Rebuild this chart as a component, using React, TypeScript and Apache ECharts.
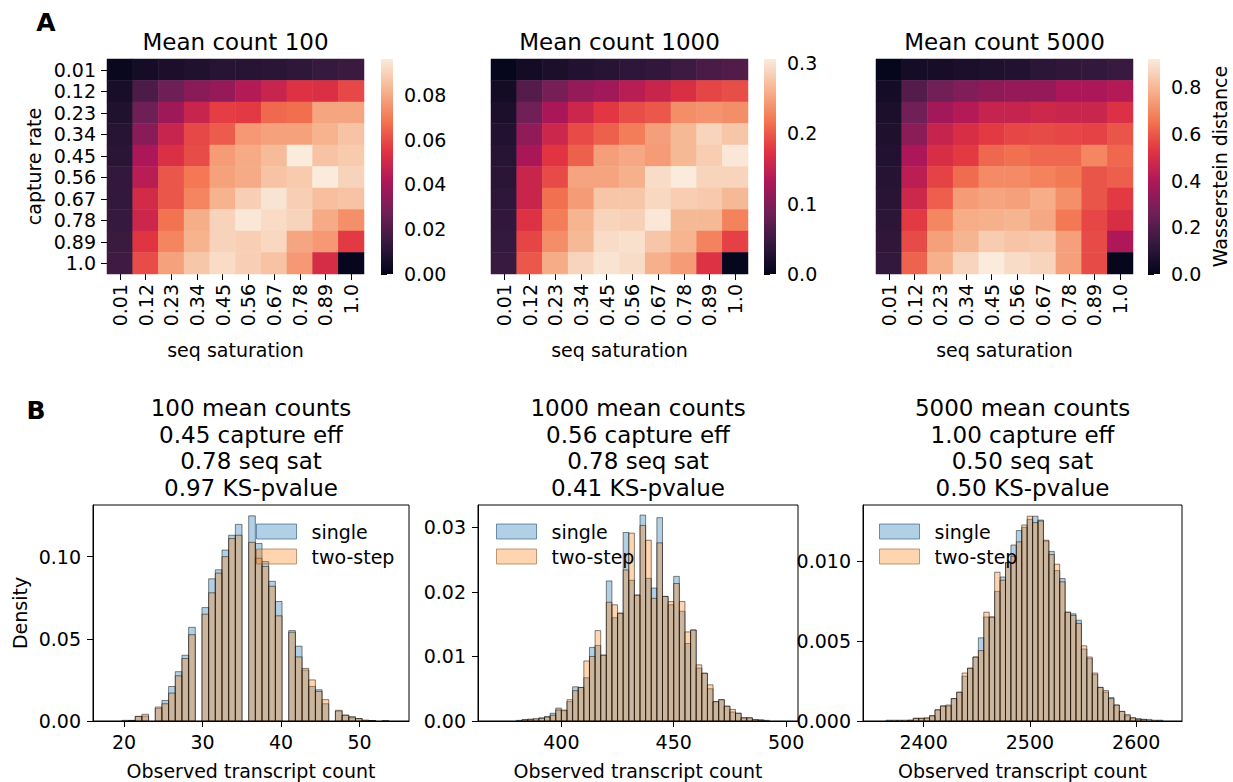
import React, { useEffect, useRef } from 'react';
import * as echarts from 'echarts';

const FONT = 'DejaVu Sans';

// ---------- Panel A: heatmaps ----------
const rateLabels = ['0.01', '0.12', '0.23', '0.34', '0.45', '0.56', '0.67', '0.78', '0.89', '1.0'];
const satLabels = ['0.01', '0.12', '0.23', '0.34', '0.45', '0.56', '0.67', '0.78', '0.89', '1.0'];

// rows = capture rate (0.01 .. 1.0), columns = seq saturation (0.01 .. 1.0)
const heat100 = [
  [0.002, 0.005, 0.007, 0.008, 0.010, 0.010, 0.011, 0.012, 0.014, 0.015],
  [0.006, 0.019, 0.027, 0.033, 0.036, 0.043, 0.048, 0.054, 0.053, 0.059],
  [0.008, 0.027, 0.038, 0.048, 0.057, 0.056, 0.066, 0.067, 0.079, 0.079],
  [0.010, 0.033, 0.048, 0.059, 0.063, 0.076, 0.078, 0.078, 0.082, 0.086],
  [0.011, 0.041, 0.053, 0.060, 0.077, 0.080, 0.084, 0.096, 0.086, 0.088],
  [0.013, 0.044, 0.062, 0.069, 0.078, 0.080, 0.086, 0.088, 0.096, 0.090],
  [0.013, 0.051, 0.062, 0.072, 0.082, 0.089, 0.094, 0.089, 0.085, 0.086],
  [0.014, 0.049, 0.068, 0.081, 0.090, 0.095, 0.092, 0.090, 0.080, 0.074],
  [0.015, 0.055, 0.072, 0.082, 0.090, 0.089, 0.091, 0.079, 0.076, 0.056],
  [0.016, 0.060, 0.078, 0.087, 0.092, 0.089, 0.086, 0.076, 0.052, 0.001],
];
const heat1000 = [
  [0.003, 0.015, 0.021, 0.027, 0.031, 0.037, 0.040, 0.049, 0.058, 0.064],
  [0.015, 0.067, 0.092, 0.113, 0.122, 0.140, 0.153, 0.168, 0.186, 0.192],
  [0.021, 0.088, 0.128, 0.156, 0.177, 0.192, 0.198, 0.235, 0.238, 0.235],
  [0.027, 0.110, 0.156, 0.189, 0.204, 0.223, 0.247, 0.265, 0.287, 0.275],
  [0.031, 0.128, 0.174, 0.204, 0.247, 0.253, 0.244, 0.265, 0.281, 0.302],
  [0.034, 0.153, 0.189, 0.250, 0.250, 0.259, 0.293, 0.305, 0.287, 0.287],
  [0.037, 0.153, 0.214, 0.244, 0.275, 0.275, 0.290, 0.281, 0.278, 0.265],
  [0.040, 0.171, 0.223, 0.262, 0.287, 0.284, 0.302, 0.265, 0.265, 0.226],
  [0.043, 0.186, 0.235, 0.265, 0.293, 0.296, 0.275, 0.262, 0.226, 0.183],
  [0.046, 0.198, 0.256, 0.287, 0.299, 0.293, 0.259, 0.244, 0.171, 0.003],
];
const heat5000 = [
  [0.009, 0.046, 0.055, 0.064, 0.073, 0.082, 0.109, 0.118, 0.127, 0.137],
  [0.046, 0.200, 0.264, 0.300, 0.328, 0.346, 0.346, 0.391, 0.391, 0.410],
  [0.064, 0.264, 0.373, 0.410, 0.455, 0.455, 0.473, 0.464, 0.464, 0.510],
  [0.073, 0.319, 0.455, 0.501, 0.537, 0.564, 0.573, 0.564, 0.555, 0.592],
  [0.082, 0.391, 0.501, 0.537, 0.628, 0.646, 0.628, 0.628, 0.692, 0.628],
  [0.091, 0.428, 0.555, 0.637, 0.701, 0.701, 0.683, 0.664, 0.592, 0.610],
  [0.100, 0.473, 0.610, 0.737, 0.755, 0.746, 0.774, 0.710, 0.592, 0.537],
  [0.109, 0.537, 0.692, 0.774, 0.783, 0.792, 0.764, 0.664, 0.564, 0.501],
  [0.118, 0.573, 0.746, 0.792, 0.846, 0.828, 0.837, 0.746, 0.573, 0.400],
  [0.127, 0.619, 0.783, 0.865, 0.920, 0.883, 0.865, 0.746, 0.573, 0.009],
];
const heatTitles = ['Mean count 100', 'Mean count 1000', 'Mean count 5000'];
const heatMax = [0.096, 0.305, 0.92];
const cbTicks = [
  [0, 0.02, 0.04, 0.06, 0.08],
  [0, 0.1, 0.2, 0.3],
  [0, 0.2, 0.4, 0.6, 0.8],
];
const cbDecimals = [2, 1, 1];
const rocket = ['#03051A', '#35193E', '#701F57', '#AD1759', '#E13342', '#F37651', '#F6B48F', '#FAEBDD'];

// ---------- Panel B: histograms ----------
const histTitles = [
  ['100 mean counts', '0.45 capture eff', '0.78 seq sat', '0.97 KS-pvalue'],
  ['1000 mean counts', '0.56 capture eff', '0.78 seq sat', '0.41 KS-pvalue'],
  ['5000 mean counts', '1.00 capture eff', '0.50 seq sat', '0.50 KS-pvalue'],
];
const hist1Start = 19.73;
const hist1Width = 0.85;
const hist1Single = [0.0004, 0.0004, 0.0028, 0.003, 0, 0.0077, 0.0125, 0.021, 0.030, 0.040, 0.057, 0, 0.069, 0.0865, 0.092, 0.104, 0.113, 0.1196, 0, 0.1248, 0.108, 0.097, 0.085, 0.0727, 0, 0.055, 0.0455, 0.031, 0.021, 0.019, 0.0105, 0, 0.006, 0.0036, 0.0027, 0.0015, 0.0004, 0.0002, 0, 0, 0];
const hist1TwoStep = [0, 0.0003, 0.0028, 0.0041, 0, 0.0085, 0.0105, 0.017, 0.0275, 0.038, 0.0525, 0, 0.065, 0.078, 0.090, 0.100, 0.111, 0.113, 0, 0.1087, 0.099, 0.094, 0.082, 0.064, 0, 0.054, 0.039, 0.032, 0.025, 0.018, 0.013, 0, 0.0065, 0.0035, 0.002, 0.0015, 0.0005, 0.0003, 0, 0.0003, 0];

const hist2Start = 380;
const hist2Width = 2.5;
const hist2Single = [0.0001, 0.0002, 0.0003, 0.0002, 0.0005, 0.0007, 0.0012, 0.0020, 0.0016, 0.0030, 0.0053, 0.0052, 0.0067, 0.0114, 0.0117, 0.0102, 0.0217, 0.0160, 0.0167, 0.0292, 0.0218, 0.0195, 0.0319, 0.0221, 0.0206, 0.0315, 0.0193, 0.0180, 0.0224, 0.0170, 0.0120, 0.0141, 0.0082, 0.0074, 0.0050, 0.0030, 0.0033, 0.0023, 0.0014, 0.0012, 0.0005, 0.0005, 0.0002, 0.0002, 0.0001];
const hist2TwoStep = [0, 0.0002, 0.0002, 0.0004, 0.0004, 0.0006, 0.0009, 0.0017, 0.0017, 0.0033, 0.0047, 0.0052, 0.0093, 0.0100, 0.0140, 0.0102, 0.0184, 0.0180, 0.0167, 0.0234, 0.0291, 0.0195, 0.0303, 0.0280, 0.0190, 0.0276, 0.0193, 0.0185, 0.0213, 0.0185, 0.0138, 0.0141, 0.0087, 0.0074, 0.0056, 0.0030, 0.0033, 0.0023, 0.0018, 0.0012, 0.0005, 0.0005, 0.0002, 0.0001, 0];

const hist3Start = 2364.8;
const hist3Width = 5.1;
const hist3Single = [0.00005, 0, 0.00005, 0, 0.00005, 0.00017, 0.00017, 0.00017, 0.00033, 0.0007, 0.00094, 0.00094, 0.0014, 0.0018, 0.0028, 0.0033, 0.0040, 0.0052, 0.0065, 0.0065, 0.0081, 0.0090, 0.0099, 0.0110, 0.0119, 0.0121, 0.0126, 0.0128, 0.01256, 0.01125, 0.0106, 0.0094, 0.0089, 0.0068, 0.0067, 0.0063, 0.0045, 0.0039, 0.0029, 0.0021, 0.0018, 0.00146, 0.0010, 0.0006, 0.00033, 0.0002, 0.00015, 0.0001, 0.0001, 0, 0.00005];
const hist3TwoStep = [0, 0.00005, 0, 0.00005, 0.00005, 0.00017, 0.00017, 0.0002, 0.00033, 0.0007, 0.00094, 0.001, 0.0014, 0.0018, 0.0030, 0.0033, 0.0040, 0.0044, 0.0068, 0.0065, 0.0093, 0.0088, 0.0099, 0.0103, 0.0112, 0.01225, 0.0128, 0.0124, 0.0125, 0.0113, 0.0104, 0.0098, 0.0087, 0.0068, 0.0066, 0.0061, 0.0047, 0.0040, 0.0030, 0.0021, 0.0019, 0.0014, 0.0010, 0.0006, 0.0004, 0.0002, 0.0001, 0.0001, 0, 0.00005, 0];

const histXRange = [[16.05, 56.3], [362.9, 505.3], [2343, 2643]];
const histYMax = [0.1314, 0.03346, 0.0135];
const histXTicks = [[20, 30, 40, 50], [400, 450, 500], [2400, 2500, 2600]];
const histYTicks = [[0, 0.05, 0.1], [0, 0.01, 0.02, 0.03], [0, 0.005, 0.01]];
const histYDecimals = [2, 2, 3];

const BLUE_FILL = 'rgba(31,119,180,0.35)';
const ORANGE_FILL = 'rgba(255,127,14,0.33)';
const EDGE = 'rgba(0,0,0,0.6)';

// ---------- layout ----------
const heatLeft = [107, 491, 876];
const heatTop = 59;
const heatW = 257;
const heatH = 215;
const cbLeft = [381, 764, 1148];
const cbW = 12;
const histLeft = [93, 478, 863];
const histW = [316, 320, 319];
const histTop = 505;
const histH = 216;

function toHeatData(rows: number[][]) {
  const out: number[][] = [];
  rows.forEach((row, r) => row.forEach((v, c) => out.push([c, r, v])));
  return out;
}
function toBins(start: number, width: number, heights: number[]) {
  const out: number[][] = [];
  heights.forEach((h, i) => {
    if (h > 0) out.push([start + i * width, start + (i + 1) * width, h]);
  });
  return out;
}

const textBase = { fontFamily: FONT, color: '#000' };

export default function App() {
  const ref = useRef<HTMLDivElement>(null);
  useEffect(() => {
    document.body.style.margin = '0';
    if (!ref.current) return;
    const chart = echarts.init(ref.current, undefined, { renderer: 'svg' });

    const grids: any[] = [];
    const xAxes: any[] = [];
    const yAxes: any[] = [];
    const series: any[] = [];
    const visualMaps: any[] = [];
    const graphics: any[] = [];
    const legends: any[] = [];

    const heats = [heat100, heat1000, heat5000];
    // heatmap grids 0..2
    for (let i = 0; i < 3; i++) {
      grids.push({ left: heatLeft[i], top: heatTop, width: heatW, height: heatH, containLabel: false });
      xAxes.push({
        type: 'category', gridIndex: i, data: satLabels, position: 'bottom',
        axisLine: { show: true, lineStyle: { color: 'rgba(0,0,0,0)' } },
        axisTick: { show: true, alignWithLabel: true, interval: 0, length: 6, lineStyle: { color: '#000', width: 1 } },
        axisLabel: { ...textBase, fontSize: 19, rotate: 90, margin: 10, interval: 0 },
        splitLine: { show: false },
        name: 'seq saturation', nameLocation: 'middle', nameGap: 66,
        nameTextStyle: { ...textBase, fontSize: 19 },
      });
      yAxes.push({
        type: 'category', gridIndex: i, data: rateLabels, inverse: true,
        axisLine: { show: true, lineStyle: { color: 'rgba(0,0,0,0)' } },
        axisTick: { show: i === 0, alignWithLabel: true, interval: 0, length: 6, lineStyle: { color: '#000', width: 1 } },
        axisLabel: { show: i === 0, ...textBase, fontSize: 19, margin: 11, interval: 0 },
        splitLine: { show: false },
        name: i === 0 ? 'capture rate' : '', nameLocation: 'middle', nameGap: 64, nameRotate: 90,
        nameTextStyle: { ...textBase, fontSize: 19 },
      });
      series.push({
        type: 'heatmap', xAxisIndex: i, yAxisIndex: i, data: toHeatData(heats[i]),
        itemStyle: { borderWidth: 0 }, emphasis: { disabled: true },
      });
      visualMaps.push({
        type: 'continuous', show: false, seriesIndex: i, min: 0, max: heatMax[i],
        inRange: { color: rocket },
      });
      graphics.push({
        type: 'text', x: heatLeft[i] + heatW / 2, y: 42,
        style: { text: heatTitles[i], fill: '#000', fontSize: 23, fontFamily: FONT, align: 'center', verticalAlign: 'middle', textAlign: 'center', textVerticalAlign: 'middle' },
      });
    }
    // colorbars: grids 3..5
    for (let i = 0; i < 3; i++) {
      const g = 3 + i;
      grids.push({ left: cbLeft[i], top: heatTop, width: cbW, height: heatH });
      xAxes.push({ type: 'value', gridIndex: g, min: 0, max: 1, show: false });
      yAxes.push({
        type: 'value', gridIndex: g, min: 0, max: heatMax[i], position: 'right',
        axisLine: { show: true, lineStyle: { color: 'rgba(0,0,0,0)' } },
        axisTick: { show: true, length: 6, customValues: cbTicks[i], lineStyle: { color: '#000', width: 1 } },
        axisLabel: {
          ...textBase, fontSize: 19, margin: 11, customValues: cbTicks[i],
          formatter: (v: number) => v.toFixed(cbDecimals[i]),
        },
        splitLine: { show: false },
        name: i === 2 ? 'Wasserstein distance' : '', nameLocation: 'middle', nameRotate: 90, nameGap: 50,
        nameTextStyle: { ...textBase, fontSize: 19 },
      });
      const stops = rocket.slice().reverse().map((c, k) => ({ offset: k / (rocket.length - 1), color: c }));
      series.push({
        type: 'custom', xAxisIndex: g, yAxisIndex: g, data: [[1, heatMax[i]]],
        encode: { x: 0, y: 1 }, silent: true,
        renderItem: (_p: any, api: any) => {
          const top = api.coord([api.value(0), api.value(1)]);
          const bot = api.coord([0, 0]);
          return {
            type: 'rect',
            shape: { x: bot[0], y: top[1], width: top[0] - bot[0], height: bot[1] - top[1] },
            style: { fill: new echarts.graphic.LinearGradient(0, 0, 0, 1, stops) },
          };
        },
      });
    }
    // histograms: grids 6..8
    const hists = [
      [toBins(hist1Start, hist1Width, hist1Single), toBins(hist1Start, hist1Width, hist1TwoStep)],
      [toBins(hist2Start, hist2Width, hist2Single), toBins(hist2Start, hist2Width, hist2TwoStep)],
      [toBins(hist3Start, hist3Width, hist3Single), toBins(hist3Start, hist3Width, hist3TwoStep)],
    ];
    const renderBin = (fill: string) => (_p: any, api: any) => {
      const a = api.coord([api.value(0), 0]);
      const b = api.coord([api.value(1), api.value(2)]);
      return {
        type: 'rect',
        shape: { x: a[0], y: b[1], width: b[0] - a[0], height: a[1] - b[1] },
        style: { fill, stroke: EDGE, lineWidth: 0.8 },
      };
    };
    const legendLeft = [256, 496, 879];
    for (let i = 0; i < 3; i++) {
      const g = 6 + i;
      grids.push({
        left: histLeft[i], top: histTop, width: histW[i], height: histH,
        show: true, borderColor: '#000', borderWidth: 1, backgroundColor: 'transparent',
      });
      xAxes.push({
        type: 'value', gridIndex: g, min: histXRange[i][0], max: histXRange[i][1],
        axisLine: { show: true, lineStyle: { color: '#000', width: 1 } },
        axisTick: { show: true, length: 6, customValues: histXTicks[i], lineStyle: { color: '#000' } },
        axisLabel: {
          ...textBase, fontSize: 19, margin: 11, customValues: histXTicks[i],
          formatter: (v: number) => String(v),
        },
        splitLine: { show: false },
        name: 'Observed transcript count', nameLocation: 'middle', nameGap: 40,
        nameTextStyle: { ...textBase, fontSize: 19 },
      });
      yAxes.push({
        type: 'value', gridIndex: g, min: 0, max: histYMax[i],
        axisLine: { show: true, lineStyle: { color: '#000', width: 1 } },
        axisTick: { show: true, length: 6, customValues: histYTicks[i], lineStyle: { color: '#000' } },
        axisLabel: {
          ...textBase, fontSize: 19, margin: 12, customValues: histYTicks[i],
          formatter: (v: number) => v.toFixed(histYDecimals[i]),
        },
        splitLine: { show: false },
        name: i === 0 ? 'Density' : '', nameLocation: 'middle', nameGap: 64, nameRotate: 90,
        nameTextStyle: { ...textBase, fontSize: 19 },
      });
      series.push({
        type: 'custom', name: 'single', xAxisIndex: g, yAxisIndex: g, data: hists[i][0],
        encode: { x: [0, 1], y: 2 }, renderItem: renderBin(BLUE_FILL), clip: true,
        itemStyle: { color: BLUE_FILL },
      });
      series.push({
        type: 'custom', name: 'two-step', xAxisIndex: g, yAxisIndex: g, data: hists[i][1],
        encode: { x: [0, 1], y: 2 }, renderItem: renderBin(ORANGE_FILL), clip: true,
        itemStyle: { color: ORANGE_FILL },
      });
      legends.push({
        left: legendLeft[i], top: 522, orient: 'vertical', itemWidth: 40, itemHeight: 15,
        itemGap: 6, padding: 0, selectedMode: false, icon: 'rect',
        textStyle: { ...textBase, fontSize: 19, padding: [0, 0, 0, 10] },
        data: [
          { name: 'single', itemStyle: { color: BLUE_FILL, borderColor: 'rgba(31,80,120,0.6)', borderWidth: 1 } },
          { name: 'two-step', itemStyle: { color: ORANGE_FILL, borderColor: 'rgba(150,90,40,0.6)', borderWidth: 1 } },
        ],
      });
      histTitles[i].forEach((line, k) => {
        graphics.push({
          type: 'text', x: histLeft[i] + histW[i] / 2, y: 408 + k * 26.5,
          style: { text: line, fill: '#000', fontSize: 23, fontFamily: FONT, align: 'center', verticalAlign: 'middle', textAlign: 'center', textVerticalAlign: 'middle' },
        });
      });
    }
    graphics.push({
      type: 'text', x: 46, y: 22,
      style: { text: 'A', fill: '#000', fontSize: 25, fontWeight: 'bold', fontFamily: FONT, align: 'center', verticalAlign: 'middle', textAlign: 'center', textVerticalAlign: 'middle' },
    });
    graphics.push({
      type: 'text', x: 36, y: 410,
      style: { text: 'B', fill: '#000', fontSize: 25, fontWeight: 'bold', fontFamily: FONT, align: 'center', verticalAlign: 'middle', textAlign: 'center', textVerticalAlign: 'middle' },
    });

    chart.setOption({
      animation: false,
      backgroundColor: '#fff',
      textStyle: { fontFamily: FONT },
      grid: grids,
      xAxis: xAxes,
      yAxis: yAxes,
      visualMap: visualMaps,
      legend: legends,
      series,
      graphic: graphics,
    });
    return () => chart.dispose();
  }, []);
  return <div ref={ref} style={{ width: 1233, height: 782 }} />;
}
